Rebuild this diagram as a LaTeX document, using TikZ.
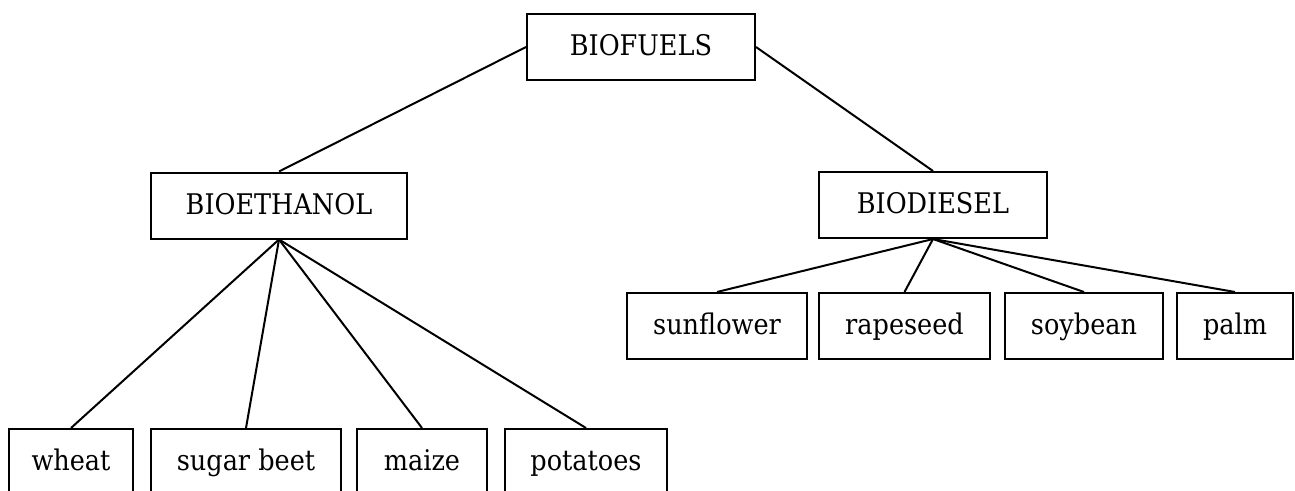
\documentclass[tikz,border=0pt]{standalone}
\usepackage{fontspec}
\setmainfont{DejaVu Serif Condensed}
\begin{document}
\begin{tikzpicture}[x=1pt,y=-1pt,
  box/.style={draw,line width=2pt,inner sep=0pt,minimum height=66pt,
    text height=25pt,text depth=8pt,font=\fontsize{28.4}{32}\selectfont},
  link/.style={line width=2pt}]
\useasboundingbox (0,0) rectangle (1295,490);
\clip (0,0) rectangle (1295,490);
\node[box,minimum width=228pt] (biofuels) at (641,47) {BIOFUELS};
\node[box,minimum width=256pt] (bioeth) at (279,205.5) {BIOETHANOL};
\node[box,minimum width=228pt] (biodiesel) at (933,205) {BIODIESEL};
\node[box,minimum width=180pt] (sunflower) at (717,326) {sunflower};
\node[box,minimum width=171pt] (rapeseed) at (904.5,326) {rapeseed};
\node[box,minimum width=158pt] (soybean) at (1084,326) {soybean};
\node[box,minimum width=116pt] (palm) at (1235,326) {palm};
\node[box,minimum width=124pt] (wheat) at (71,462) {wheat};
\node[box,minimum width=190pt] (sugarbeet) at (246,462) {sugar beet};
\node[box,minimum width=130pt] (maize) at (422,462) {maize};
\node[box,minimum width=162pt] (potatoes) at (586,462) {potatoes};
\draw[link] (biofuels.west) -- (bioeth.north);
\draw[link] (biofuels.east) -- (biodiesel.north);
\foreach \c in {wheat,sugarbeet,maize,potatoes}
  \draw[link] (bioeth.south) -- (\c.north);
\foreach \c in {sunflower,rapeseed,soybean,palm}
  \draw[link] (biodiesel.south) -- (\c.north);
\end{tikzpicture}
\end{document}
